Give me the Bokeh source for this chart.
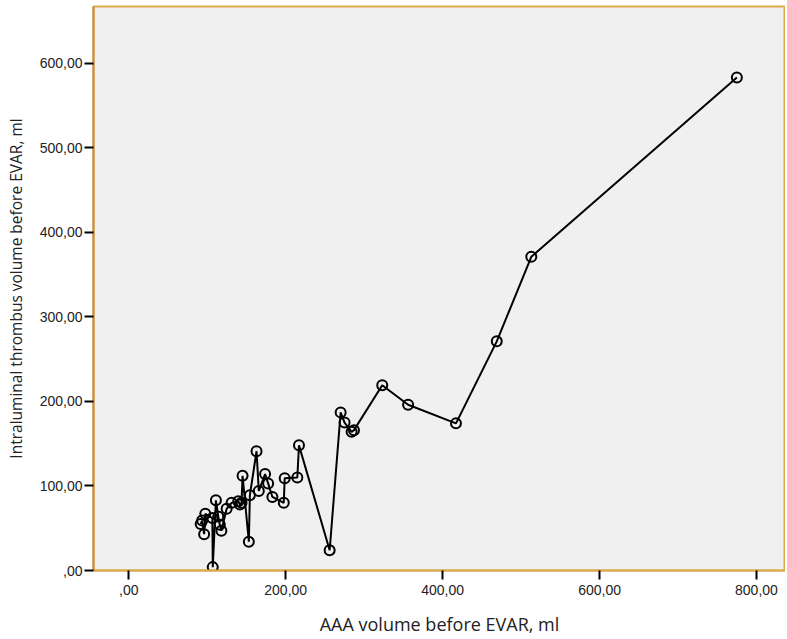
from bokeh.plotting import figure
from bokeh.models import Range1d, FixedTicker
from bokeh.embed import file_html
from bokeh.resources import INLINE

# AAA volume before EVAR (ml) and intraluminal thrombus volume (ml)
aaa_volume = [91.6, 93.5, 96.0, 97.5, 106.5, 107.0, 111.0, 114.0, 116.0, 118.0,
              124.7, 131.0, 139.5, 141.6, 143.7, 145.0, 153.0, 154.3, 162.8, 165.7,
              173.7, 177.6, 183.0, 197.5, 198.7, 214.8, 216.9, 256.0, 270.0, 275.0,
              284.0, 287.0, 323.0, 356.0, 417.0, 469.0, 513.0, 775.0]
thrombus_volume = [55.0, 59.0, 43.0, 67.0, 62.0, 4.0, 83.0, 64.0, 54.0, 47.0,
                   73.0, 80.0, 82.0, 78.0, 80.0, 112.0, 34.0, 89.0, 141.0, 94.0,
                   114.0, 103.0, 87.0, 80.0, 109.0, 110.0, 148.0, 24.0, 187.0, 175.0,
                   164.0, 166.0, 219.0, 196.0, 174.0, 271.0, 371.0, 583.0]

x_ticks = [0, 200, 400, 600, 800]
x_tick_labels = [",00", "200,00", "400,00", "600,00", "800,00"]
y_ticks = [0, 100, 200, 300, 400, 500, 600]
y_tick_labels = [",00", "100,00", "200,00", "300,00", "400,00", "500,00", "600,00"]

x_title = "AAA volume before EVAR, ml"
y_title = "Intraluminal thrombus volume before EVAR, ml"

p = figure(width=785, height=638, output_backend="svg", toolbar_location=None,
           x_range=Range1d(-45, 837), y_range=Range1d(0, 667))
p.min_border_left = 93
p.min_border_top = 6
p.min_border_right = 0
p.min_border_bottom = 0
p.border_fill_color = "white"
p.background_fill_color = "#f0f0f0"
p.outline_line_color = "#dcaa4a"
p.outline_line_width = 2
p.grid.visible = False

p.line(aaa_volume, thrombus_volume, line_color="black", line_width=2)
p.scatter(aaa_volume, thrombus_volume, marker="circle", size=10,
          fill_color=None, line_color="black", line_width=2)

for ax, ticks, labels in ((p.xaxis[0], x_ticks, x_tick_labels),
                          (p.yaxis[0], y_ticks, y_tick_labels)):
    ax.ticker = FixedTicker(ticks=ticks)
    ax.major_label_overrides = {t: l for t, l in zip(ticks, labels)}
    ax.minor_tick_line_color = None
    ax.major_tick_line_color = "black"
    ax.major_tick_line_width = 2
    ax.major_tick_in = 0
    ax.major_tick_out = 9
    ax.major_label_text_font = "Liberation Sans"
    ax.major_label_text_font_size = "14px"
    ax.major_label_text_color = "#222222"
    ax.axis_label_text_font = "Open Sans"
    ax.axis_label_text_font_style = "normal"
    ax.axis_label_text_color = "#222222"
    ax.axis_line_width = 2

p.xaxis.axis_label_text_font_size = "18px"
p.yaxis.axis_label_text_font_size = "15.5px"
p.xaxis.axis_line_color = "#dcaa4a"
p.yaxis.axis_line_color = "#c98a40"
p.xaxis.major_label_standoff = 5
p.yaxis.major_label_standoff = 2
p.xaxis.axis_label = x_title
p.yaxis.axis_label = y_title
p.xaxis.axis_label_standoff = 14
p.yaxis.axis_label_standoff = 10

open("out.html", "w").write(file_html(p, INLINE))
